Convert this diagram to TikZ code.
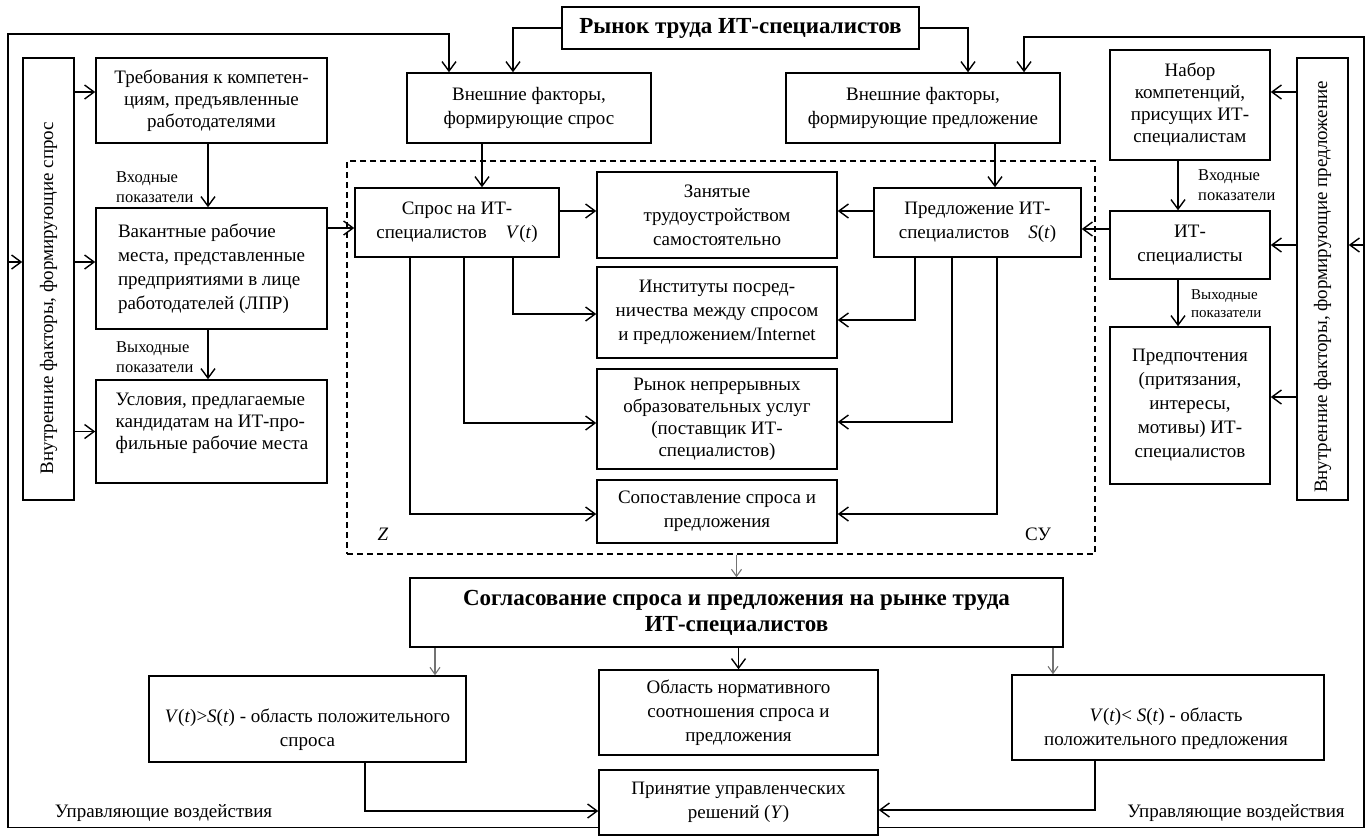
\documentclass[tikz,border=0pt]{standalone}
\usepackage{fontspec}
\setmainfont{Liberation Serif}
\usetikzlibrary{arrows.meta}
\newcommand\myfn{\fontsize{19}{24}\selectfont}
\newcommand\myfc{\fontsize{19}{22}\selectfont}
\newcommand\myfl{\fontsize{16.5}{20}\selectfont}
\newcommand\myfs{\fontsize{15}{18}\selectfont}
\newcommand\myfb{\fontsize{23}{26}\selectfont\bfseries}
\begin{document}
\begin{tikzpicture}[x=1pt,y=-1pt,
  box/.style={draw, line width=1.5pt, align=center, inner sep=1pt, font=\myfn},
  txt/.style={align=center, inner sep=0pt, font=\myfn},
  lbl/.style={align=left, inner sep=0pt, font=\myfl, anchor=west},
  arr/.style={line width=1.4pt, -{Straight Barb[length=9.5pt,width=14pt,line width=1.4pt]}},
  garr/.style={draw=black!55, line width=1.1pt, -{Straight Barb[length=7pt,width=10pt,line width=1.1pt]}}]
\useasboundingbox (0,0) rectangle (1371,836);
% boxes
\node[box, font=\myfb, minimum width=357pt, minimum height=42pt] (title) at (740.5,28) {Рынок труда ИТ-специалистов};
\node[box, minimum width=244pt, minimum height=70pt] (vnsp) at (529,108) {Внешние факторы,\\формирующие спрос};
\node[box, minimum width=274pt, minimum height=70pt] (vnpr) at (923,108) {Внешние факторы,\\формирующие предложение};
\node[draw, dash pattern=on 6pt off 4pt, line width=1.3pt, minimum width=748pt, minimum height=393pt] (dash) at (721,357.5) {};
\node[box, minimum width=204pt, minimum height=69pt] (V) at (457,222.5) {Спрос на ИТ-\\специалистов\quad\textit{V}(\textit{t})};
\node[box, minimum width=240pt, minimum height=86pt] (zan) at (717,215) {Занятые\\трудоустройством\\самостоятельно};
\node[box, minimum width=207pt, minimum height=69pt] (S) at (977.5,222.5) {Предложение ИТ-\\специалистов\quad\textit{S}(\textit{t})};
\node[box, minimum width=240pt, minimum height=91pt] (inst) at (717,312.5) {Институты посред-\\ничества между спросом\\и предложением/Internet};
\node[box, font=\myfc, minimum width=240pt, minimum height=100pt] (ryn) at (717,419) {Рынок непрерывных\\образовательных услуг\\(поставщик ИТ-\\специалистов)};
\node[box, minimum width=240pt, minimum height=63pt] (sop) at (717,511.5) {Сопоставление спроса и\\предложения};
\node[box, font=\myfc, minimum width=231pt, minimum height=85pt] (treb) at (211.5,100.5) {Требования к компетен-\\циям, предъявленные\\работодателями};
\node[box, align=left, minimum width=231pt, minimum height=121pt] (vak) at (211.5,268.5) {Вакантные рабочие\\места, представленные\\предприятиями в лице\\работодателей (ЛПР)};
\node[box, minimum width=231pt, minimum height=103pt] (usl) at (211.5,431.5) {};
\node[txt, align=left, font=\myfc] (uslt) at (212,423) {Условия, предлагаемые\\кандидатам на ИТ-про-\\фильные рабочие места};
\node[box, minimum width=51pt, minimum height=442pt] (lv) at (48.5,279) {};
\node[txt, rotate=90] (lvt) at (48.5,298) {Внутренние факторы, формирующие спрос};
\node[box, font=\myfc, minimum width=160pt, minimum height=110pt] (nab) at (1190,105) {Набор\\компетенций,\\присущих ИТ-\\специалистам};
\node[box, minimum width=160pt, minimum height=68pt] (it) at (1190,245) {ИТ-\\специалисты};
\node[box, minimum width=160pt, minimum height=157pt] (pref) at (1190,405.5) {Предпочтения\\(притязания,\\интересы,\\мотивы) ИТ-\\специалистов};
\node[box, minimum width=51pt, minimum height=442pt] (rv) at (1322.5,279) {};
\node[txt, rotate=90] (rvt) at (1322.5,287) {Внутренние факторы, формирующие предложение};
\node[box, font=\myfb, minimum width=653pt, minimum height=69pt] (sog) at (736.5,612.5) {Согласование спроса и предложения на рынке труда\\ИТ-специалистов};
\node[box, minimum width=317pt, minimum height=86pt] (vgs) at (307.5,719) {};
\node[txt] (vgst) at (307.5,730) {\textit{V}(\textit{t})>\textit{S}(\textit{t}) - область положительного\\спроса};
\node[box, minimum width=279pt, minimum height=85pt] (norm) at (738.5,712.5) {Область нормативного\\соотношения спроса и\\предложения};
\node[box, minimum width=312pt, minimum height=85pt] (vls) at (1168,717.5) {};
\node[txt] (vlst) at (1166,729) {\textit{V}(\textit{t})< \textit{S}(\textit{t}) - область\\положительного предложения};
\node[box, minimum width=279pt, minimum height=65pt] (prin) at (738.5,802.5) {Принятие управленческих\\решений (\textit{Y})};
% labels
\node[font=\myfn\itshape] (zl) at (383,534) {Z};
\node[font=\myfn] (sul) at (1038,534) {СУ};
\node[font=\myfn] (uvl) at (163.5,813) {Управляющие воздействия};
\node[font=\myfn] (uvr) at (1236,813) {Управляющие воздействия};
\node[lbl] (l1) at (116,187) {Входные\\показатели};
\node[lbl] (l2) at (116,357) {Выходные\\показатели};
\node[lbl] (l3) at (1198,185) {Входные\\показатели};
\node[lbl, font=\myfs] (l4) at (1191,304) {Выходные\\показатели};
% frame coordinates
\coordinate (cTL) at (8,34);
\coordinate (cTR) at (1364,37);
% title to external factors
\draw[arr] (title.west) -| ([xshift=-16pt]vnsp.north);
\draw[arr] (title.east) -| ([xshift=45pt]vnpr.north);
% feedback loops
\coordinate (pL) at ([yshift=-25pt]prin.west);
\coordinate (pR) at ([yshift=-25pt]prin.east);
\draw[arr] (pL) -- (pL -| cTL) -- (cTL) -| ([xshift=-80pt]vnsp.north);
\draw[arr] (pR) -- (pR -| cTR) -- (cTR) -| ([xshift=101pt]vnpr.north);
% frame to internal-factor boxes
\coordinate (fl) at ([yshift=6.5pt]vak.west);
\draw[arr] (fl -| cTL) -- (fl -| lv.west);
\draw[arr] (it.east -| cTR) -- (it.east -| rv.east);
% left internal factors
\coordinate (t1) at ([yshift=8.5pt]treb.west);
\draw[arr] (t1 -| lv.east) -- (t1);
\draw[arr] (fl -| lv.east) -- (fl);
\draw[arr] (usl.west -| lv.east) -- (usl.west);
% right internal factors
\coordinate (n1) at ([yshift=13pt]nab.east);
\draw[arr] (n1 -| rv.west) -- (n1);
\draw[arr] (it.east -| rv.west) -- (it.east);
\coordinate (p1) at ([yshift=8.5pt]pref.east);
\draw[arr] (p1 -| rv.west) -- (p1);
% vertical chains
\draw[arr] ([xshift=-3.5pt]treb.south) -- ([xshift=-3.5pt]vak.north);
\draw[arr] ([xshift=-3.5pt]vak.south) -- ([xshift=-3.5pt]usl.north);
\coordinate (nb) at ([xshift=-12pt]nab.south);
\draw[arr] (nb) -- (nb |- it.north);
\coordinate (ib) at ([xshift=-12pt]it.south);
\draw[arr] (ib) -- (ib |- pref.north);
\coordinate (d1) at ([xshift=-47pt]vnsp.south);
\draw[arr] (d1) -- (d1 |- V.north);
\coordinate (d2) at ([xshift=72pt]vnpr.south);
\draw[arr] (d2) -- (d2 |- S.north);
% horizontal
\coordinate (a3) at ([yshift=-5.5pt]V.west);
\draw[arr] (a3 -| vak.east) -- (a3);
\coordinate (a4) at ([yshift=11.5pt]V.east);
\draw[arr] (a4) -- (a4 -| zan.west);
\coordinate (a5) at ([yshift=11.5pt]S.west);
\draw[arr] (a5) -- (a5 -| zan.east);
\coordinate (a6) at ([yshift=16pt]it.west);
\draw[arr] (a6) -- (a6 -| S.east);
% demand branches
\draw[arr] ([xshift=-47pt]V.south) |- ([yshift=-2.5pt]sop.west);
\draw[arr] ([xshift=7pt]V.south) |- ([yshift=-4pt]ryn.west);
\draw[arr] ([xshift=56pt]V.south) |- ([yshift=-1.5pt]inst.west);
% supply branches
\draw[arr] ([xshift=-62.5pt]S.south) |- ([yshift=-7.5pt]inst.east);
\draw[arr] ([xshift=-25.5pt]S.south) |- ([yshift=-3pt]ryn.east);
\draw[arr] ([xshift=19.5pt]S.south) |- ([yshift=-2.5pt]sop.east);
% lower part
\draw[garr] (sog.north |- dash.south) -- (sog.north);
\coordinate (g1) at ([xshift=127.5pt]vgs.north);
\draw[garr] (g1 |- sog.south) -- (g1);
\coordinate (g2) at ([xshift=-115pt]vls.north);
\draw[garr] (g2 |- sog.south) -- (g2);
\draw[arr] (norm.north |- sog.south) -- (norm.north);
\coordinate (b1) at ([yshift=-8.5pt]prin.west);
\draw[arr] ([xshift=57.5pt]vgs.south) |- (b1);
\coordinate (b2) at ([yshift=-7.5pt]prin.east);
\draw[arr] ([xshift=-73pt]vls.south) |- (b2);
\end{tikzpicture}
\end{document}
